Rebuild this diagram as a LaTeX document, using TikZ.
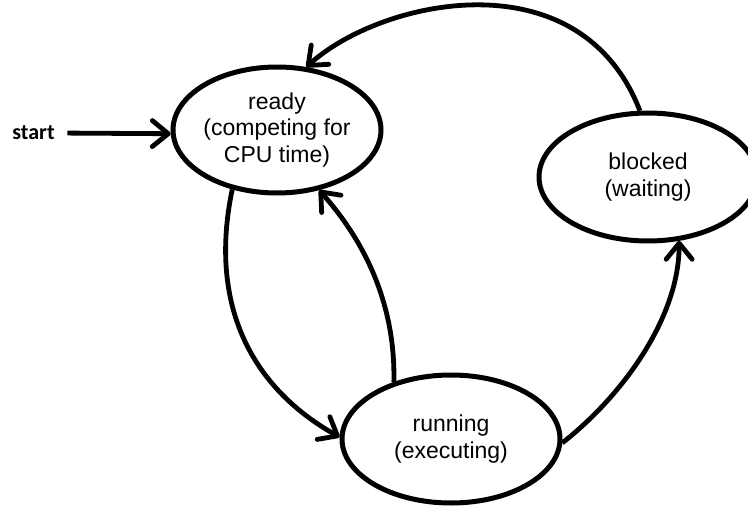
\documentclass[tikz,border=0pt]{standalone}
\usepackage{fontspec}
\setmainfont{Liberation Sans}
\newfontfamily\startfont{Carlito}
\usetikzlibrary{shapes.geometric,arrows.meta}
\begin{document}
\begin{tikzpicture}[x=1pt,y=-1pt,
  state/.style={ellipse, draw, line width=5pt, inner xsep=-10pt, inner ysep=0pt,
    align=center, font=\fontsize{23}{26.5}\selectfont},
  conn/.style={line width=4.8pt, -{Straight Barb[length=16pt,width=26pt,round]}},
]
\useasboundingbox (0,0) rectangle (748,506);
\clip (0,0) rectangle (748,506);
\node[state, minimum width=208pt, minimum height=126pt] (ready) at (277,130)
  {ready\\(competing for\\CPU time)};
\node[state, minimum width=218pt, minimum height=128pt] (running) at (451,439)
  {running\\(executing)};
\node[state, minimum width=218pt, minimum height=128pt] (blocked) at (648,177)
  {blocked\\(waiting)};
\node[font=\startfont\bfseries\fontsize{22}{26}\selectfont, inner sep=0pt] (start) at (33.5,133) {start};
\draw[conn, shorten <=12.5pt] (start.east) -- (ready.182);
\draw[conn] (ready.233) .. controls +(-25,120) and +(-84,-47) .. (running.179);
\draw[conn] (running.135) .. controls +(2,-92) and +(33,37) .. (ready.-55);
\draw[conn] (running.-2) .. controls +(60,-47) and +(0,77) .. (blocked.-64);
\draw[conn] (blocked.97) .. controls +(-60,-155) and +(75,-68) .. (ready.65);
\end{tikzpicture}
\end{document}
